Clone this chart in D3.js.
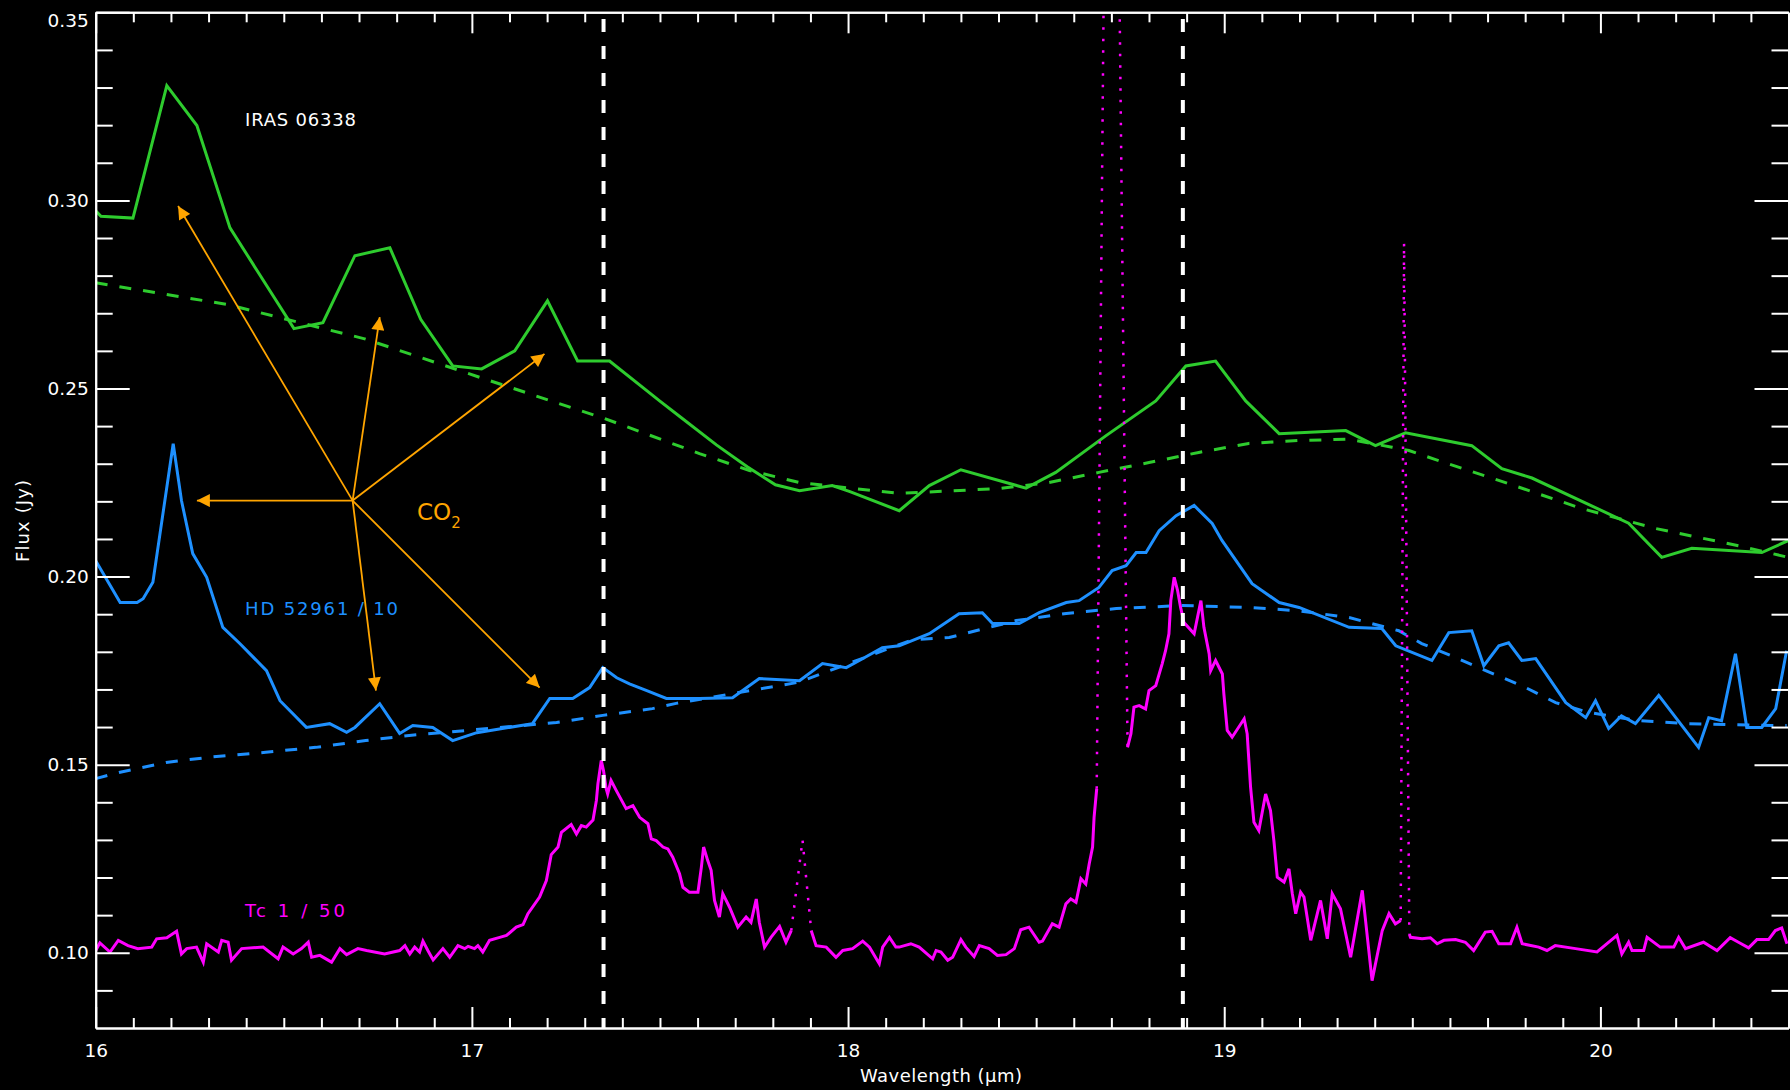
<!DOCTYPE html>
<html>
<head>
<meta charset="utf-8">
<script src="https://cdn.jsdelivr.net/npm/d3@7"></script>
<style>
  html, body { margin: 0; padding: 0; background: #000; }
  svg { display: block; }
  text { font-family: "DejaVu Sans", sans-serif; fill: #fff; }
</style>
</head>
<body>
<svg id="chart" width="1790" height="1090"></svg>
<script>
// ---- Spectra: [wavelength (µm), flux (Jy)] ----

// IRAS 06338 observed spectrum
const irasSpectrum = [
  [16.000,0.2972],[16.014,0.2958],[16.099,0.2953],[16.189,0.3305],[16.269,0.3199],
  [16.357,0.2927],[16.527,0.2659],[16.604,0.2675],[16.689,0.2853],[16.782,0.2874],
  [16.864,0.2684],[16.949,0.2560],[17.026,0.2552],[17.114,0.2600],[17.201,0.2733],
  [17.281,0.2573],[17.366,0.2573],[17.499,0.2467],[17.556,0.2423],[17.650,0.2350],
  [17.732,0.2292],[17.807,0.2244],[17.871,0.2228],[17.958,0.2242],[18.005,0.2226],
  [18.136,0.2175],[18.216,0.2242],[18.300,0.2284],[18.473,0.2235],[18.552,0.2277],
  [18.685,0.2374],[18.818,0.2467],[18.898,0.2560],[18.977,0.2573],[19.057,0.2467],
  [19.146,0.2380],[19.323,0.2388],[19.402,0.2348],[19.482,0.2382],[19.658,0.2348],
  [19.738,0.2287],[19.818,0.2262],[20.075,0.2142],[20.163,0.2051],[20.243,0.2075],
  [20.429,0.2064],[20.500,0.2096]
];

// IRAS 06338 continuum
const irasContinuum = [
  [16.000,0.2781],[16.351,0.2723],[16.715,0.2632],[17.050,0.2520],[17.353,0.2420],
  [17.605,0.2327],[17.738,0.2282],[17.871,0.2250],[18.136,0.2221],[18.402,0.2234],
  [18.534,0.2250],[18.667,0.2277],[18.800,0.2303],[18.932,0.2330],[19.065,0.2354],
  [19.198,0.2362],[19.331,0.2365],[19.446,0.2344],[19.491,0.2335],[19.562,0.2311],
  [19.756,0.2247],[19.950,0.2181],[20.146,0.2128],[20.367,0.2082],[20.500,0.2051]
];

// HD 52961 spectrum, scaled by 1/10
const hdSpectrum = [
  [16.000,0.2042],[16.065,0.1931],[16.110,0.1931],[16.126,0.1941],[16.152,0.1985],
  [16.206,0.2353],[16.228,0.2202],[16.258,0.2061],[16.295,0.1998],[16.338,0.1865],
  [16.383,0.1822],[16.454,0.1750],[16.490,0.1670],[16.560,0.1599],[16.622,0.1609],
  [16.667,0.1586],[16.689,0.1599],[16.755,0.1662],[16.808,0.1583],[16.843,0.1604],
  [16.896,0.1599],[16.949,0.1564],[17.013,0.1585],[17.161,0.1609],[17.207,0.1676],
  [17.268,0.1676],[17.313,0.1705],[17.348,0.1758],[17.385,0.1731],[17.419,0.1715],
  [17.465,0.1697],[17.517,0.1676],[17.605,0.1676],[17.693,0.1678],[17.764,0.1729],
  [17.871,0.1723],[17.932,0.1769],[17.995,0.1758],[18.030,0.1777],[18.091,0.1811],
  [18.136,0.1816],[18.216,0.1848],[18.295,0.1901],[18.357,0.1904],[18.384,0.1875],
  [18.455,0.1875],[18.508,0.1904],[18.580,0.1931],[18.614,0.1936],[18.667,0.1971],
  [18.702,0.2016],[18.739,0.2029],[18.766,0.2064],[18.792,0.2064],[18.827,0.2122],
  [18.872,0.2162],[18.920,0.2189],[18.968,0.2141],[18.994,0.2096],[19.074,0.1981],
  [19.146,0.1931],[19.199,0.1918],[19.332,0.1865],[19.419,0.1862],[19.456,0.1816],
  [19.552,0.1777],[19.597,0.1851],[19.658,0.1856],[19.690,0.1763],[19.730,0.1816],
  [19.756,0.1824],[19.791,0.1777],[19.828,0.1782],[19.908,0.1665],[19.961,0.1625],
  [19.987,0.1670],[20.022,0.1596],[20.056,0.1630],[20.093,0.1609],[20.155,0.1684],
  [20.261,0.1546],[20.288,0.1625],[20.322,0.1617],[20.359,0.1795],[20.389,0.1599],
  [20.429,0.1599],[20.466,0.1649],[20.495,0.1803]
];

// HD 52961 continuum, scaled by 1/10
const hdContinuum = [
  [16.000,0.1463],[16.065,0.1480],[16.187,0.1506],[16.304,0.1520],[16.452,0.1533],
  [16.585,0.1546],[16.718,0.1564],[16.827,0.1577],[17.225,0.1612],[17.348,0.1631],
  [17.480,0.1649],[17.543,0.1663],[17.868,0.1719],[18.171,0.1832],[18.269,0.1838],
  [18.447,0.1883],[18.580,0.1902],[18.713,0.1915],[18.888,0.1923],[19.066,0.1918],
  [19.199,0.1909],[19.332,0.1891],[19.464,0.1856],[19.525,0.1822],[19.615,0.1785],
  [19.676,0.1758],[19.791,0.1710],[19.881,0.1665],[19.968,0.1639],[20.101,0.1617],
  [20.234,0.1609],[20.455,0.1604],[20.495,0.1604]
];

// Tc 1 spectrum, scaled by 1/50 (split into valid pieces and flagged gaps)
const tcSegmentA = [
  [16.000,0.1006],[16.011,0.1026],[16.038,0.1002],[16.060,0.1033],[16.086,0.1019],
  [16.112,0.1011],[16.149,0.1015],[16.162,0.1037],[16.189,0.1040],[16.215,0.1057],
  [16.228,0.0997],[16.242,0.1011],[16.268,0.1015],[16.286,0.0975],[16.295,0.1024],
  [16.326,0.1002],[16.335,0.1033],[16.352,0.1028],[16.361,0.0980],[16.388,0.1011],
  [16.445,0.1015],[16.485,0.0984],[16.498,0.1015],[16.525,0.0997],[16.547,0.1011],
  [16.565,0.1028],[16.574,0.0988],[16.596,0.0993],[16.627,0.0975],[16.649,0.1011],
  [16.667,0.0995],[16.697,0.1011],[16.720,0.1006],[16.768,0.0997],[16.808,0.1006],
  [16.822,0.1019],[16.835,0.0997],[16.848,0.1015],[16.861,0.1002],[16.870,0.1031],
  [16.883,0.1006],[16.897,0.0981],[16.923,0.1011],[16.941,0.0988],[16.963,0.1019],
  [16.981,0.1011],[16.990,0.1017],[17.007,0.1011],[17.016,0.1019],[17.029,0.1002],
  [17.047,0.1033],[17.074,0.1041],[17.092,0.1046],[17.118,0.1068],[17.136,0.1075],
  [17.149,0.1104],[17.180,0.1148],[17.198,0.1192],[17.211,0.1261],[17.229,0.1281],
  [17.238,0.1320],[17.264,0.1341],[17.278,0.1316],[17.291,0.1338],[17.304,0.1334],
  [17.322,0.1353],[17.331,0.1405],[17.335,0.1449],[17.344,0.1511],[17.350,0.1484],
  [17.357,0.1436],[17.361,0.1422],[17.370,0.1458],[17.384,0.1431],[17.410,0.1383],
  [17.428,0.1391],[17.446,0.1360],[17.468,0.1343],[17.477,0.1303],[17.490,0.1298],
  [17.508,0.1281],[17.521,0.1276],[17.534,0.1254],[17.552,0.1210],[17.561,0.1174],
  [17.578,0.1161],[17.601,0.1161],[17.610,0.1227],[17.616,0.1281],[17.627,0.1245],
  [17.636,0.1219],[17.645,0.1139],[17.658,0.1095],[17.667,0.1157],[17.685,0.1121],
  [17.707,0.1068],[17.729,0.1095],[17.742,0.1081],[17.756,0.1143],[17.764,0.1081],
  [17.778,0.1015],[17.795,0.1041],[17.818,0.1070],[17.835,0.1028],[17.849,0.1059]
];
const tcGapA = [[17.849,0.1059],[17.879,0.1300],[17.902,0.1059]];
const tcSegmentB = [
  [17.902,0.1059],[17.915,0.1019],[17.942,0.1015],[17.968,0.0988],[17.986,0.1006],
  [18.012,0.1011],[18.039,0.1031],[18.057,0.1015],[18.083,0.0971],[18.092,0.1015],
  [18.110,0.1041],[18.127,0.1015],[18.136,0.1015],[18.167,0.1024],[18.189,0.1015],
  [18.225,0.0984],[18.234,0.1006],[18.247,0.1002],[18.265,0.0980],[18.278,0.0988],
  [18.300,0.1035],[18.313,0.1015],[18.335,0.0990],[18.349,0.1019],[18.375,0.1011],
  [18.397,0.0993],[18.420,0.0995],[18.442,0.1011],[18.459,0.1061],[18.481,0.1068],
  [18.508,0.1028],[18.517,0.1031],[18.543,0.1077],[18.561,0.1068],[18.579,0.1130],
  [18.592,0.1143],[18.606,0.1134],[18.619,0.1197],[18.632,0.1183],[18.641,0.1236],
  [18.650,0.1281],[18.654,0.1360],[18.661,0.1436]
];
const tcGapB = [[18.661,0.1436],[18.680,0.3600],[18.721,0.3600],[18.743,0.1546]];
const tcSegmentC = [
  [18.743,0.1546],[18.752,0.1582],[18.760,0.1653],[18.774,0.1657],[18.791,0.1648],
  [18.800,0.1697],[18.818,0.1710],[18.835,0.1768],[18.844,0.1803],[18.853,0.1848],
  [18.858,0.1936],[18.867,0.1998],[18.876,0.1963],[18.884,0.1918],[18.893,0.1878],
  [18.920,0.1848],[18.938,0.1936],[18.946,0.1865],[18.960,0.1794],[18.964,0.1750],
  [18.977,0.1777],[18.995,0.1741],[18.999,0.1688],[19.008,0.1591],[19.021,0.1573],
  [19.053,0.1622],[19.061,0.1582],[19.070,0.1440],[19.079,0.1347],[19.092,0.1325],
  [19.110,0.1422],[19.123,0.1378],[19.132,0.1298],[19.141,0.1201],[19.159,0.1188],
  [19.172,0.1223],[19.181,0.1157],[19.190,0.1104],[19.203,0.1161],[19.212,0.1148],
  [19.230,0.1033],[19.256,0.1139],[19.274,0.1037],[19.287,0.1157],[19.309,0.1117],
  [19.336,0.0988],[19.367,0.1166],[19.393,0.0926],[19.420,0.1059],[19.438,0.1104],
  [19.455,0.1077],[19.469,0.1086]
];
const tcGapC = [[19.469,0.1086],[19.478,0.2887],[19.492,0.1050]];
const tcSegmentD = [
  [19.492,0.1050],[19.495,0.1041],[19.526,0.1037],[19.548,0.1040],[19.566,0.1024],
  [19.584,0.1033],[19.615,0.1035],[19.641,0.1028],[19.663,0.1006],[19.694,0.1055],
  [19.712,0.1057],[19.730,0.1024],[19.761,0.1024],[19.778,0.1068],[19.792,0.1024],
  [19.836,0.1015],[19.858,0.1006],[19.880,0.1019],[19.934,0.1011],[19.991,0.1002],
  [20.044,0.1046],[20.057,0.0997],[20.075,0.1028],[20.084,0.1006],[20.115,0.1006],
  [20.124,0.1041],[20.159,0.1015],[20.195,0.1015],[20.208,0.1041],[20.226,0.1011],
  [20.274,0.1028],[20.310,0.1006],[20.345,0.1040],[20.367,0.1028],[20.394,0.1013],
  [20.416,0.1035],[20.447,0.1035],[20.465,0.1059],[20.482,0.1066],[20.496,0.1024]
];

// Reference wavelengths marked by vertical dashed lines
const markerWavelengths = [17.35, 18.89];

// CO2 band arrows: common origin and the points they indicate
const co2Origin = [16.683, 0.2202];
const co2Targets = [
  [16.219, 0.2985], [16.269, 0.2202], [16.755, 0.2690],
  [17.193, 0.2592], [16.745, 0.1697], [17.180, 0.1705]
];

// Axis ticks
const xMajorTicks = [16, 17, 18, 19, 20];
const xMinorTicks = d3.range(161, 205).filter(v => v % 10 !== 0).map(v => v / 10);
const yMajorTicks = [0.10, 0.15, 0.20, 0.25, 0.30, 0.35];
const yMinorTicks = d3.range(9, 35).filter(v => v % 5 !== 0).map(v => v / 100);

// ---- Layout ----
const svg = d3.select("#chart");
svg.append("rect").attr("width", 1790).attr("height", 1090).attr("fill", "#000");

const plotLeft = 95.7, plotRight = 1788.5, plotTop = 12.3, plotBottom = 1028;
const x = d3.scaleLinear().domain([16, 20.5]).range([plotLeft, plotRight]);
const y = d3.scaleLinear().domain([0.08, 0.35]).range([plotBottom, plotTop]);

const colors = {
  iras: "#2ecc2e",
  hd: "#1e90ff",
  tc: "#ff00ff",
  co2: "#ffa500",
  axis: "#ffffff"
};

svg.append("defs").append("clipPath").attr("id", "plotClip")
  .append("rect")
  .attr("x", plotLeft).attr("y", plotTop)
  .attr("width", plotRight - plotLeft).attr("height", plotBottom - plotTop);

const line = d3.line().x(d => x(d[0])).y(d => y(d[1]));
const plot = svg.append("g").attr("clip-path", "url(#plotClip)");

function drawLine(data, color, width, dash) {
  plot.append("path")
    .datum(data)
    .attr("d", line)
    .attr("fill", "none")
    .attr("stroke", color)
    .attr("stroke-width", width)
    .attr("stroke-linejoin", "miter")
    .attr("stroke-dasharray", dash || null);
}

// Continua (dashed)
drawLine(irasContinuum, colors.iras, 3, "12,12");
drawLine(hdContinuum, colors.hd, 3, "12,12");

// Spectra
drawLine(irasSpectrum, colors.iras, 3);
drawLine(hdSpectrum, colors.hd, 3);
[tcSegmentA, tcSegmentB, tcSegmentC, tcSegmentD].forEach(s => drawLine(s, colors.tc, 3));
[tcGapA, tcGapB, tcGapC].forEach(s => drawLine(s, colors.tc, 2.5, "2.5,9"));

// Vertical reference lines
plot.selectAll("line.marker")
  .data(markerWavelengths)
  .join("line")
  .attr("class", "marker")
  .attr("x1", d => x(d)).attr("x2", d => x(d))
  .attr("y1", y(0.3482)).attr("y2", y(0.08))
  .attr("stroke", "#fff")
  .attr("stroke-width", 4)
  .attr("stroke-dasharray", "13,14");

// CO2 arrows
const defs = svg.select("defs");
defs.append("marker")
  .attr("id", "arrowHead")
  .attr("viewBox", "0 0 10 10")
  .attr("refX", 10).attr("refY", 5)
  .attr("markerUnits", "userSpaceOnUse")
  .attr("markerWidth", 14).attr("markerHeight", 13)
  .attr("orient", "auto")
  .append("path")
  .attr("d", "M0,0 L10,5 L0,10 Z")
  .attr("fill", colors.co2);

svg.append("g").selectAll("line")
  .data(co2Targets)
  .join("line")
  .attr("x1", x(co2Origin[0])).attr("y1", y(co2Origin[1]))
  .attr("x2", d => x(d[0])).attr("y2", d => y(d[1]))
  .attr("stroke", colors.co2)
  .attr("stroke-width", 1.8)
  .attr("marker-end", "url(#arrowHead)");

// ---- Axes ----
function styleAxis(g) {
  g.selectAll("path.domain").attr("stroke", colors.axis).attr("stroke-width", 2);
  g.selectAll(".tick line").attr("stroke", colors.axis).attr("stroke-width", 2);
  g.selectAll(".tick text")
    .attr("fill", colors.axis)
    .style("font-family", '"DejaVu Sans", sans-serif')
    .style("font-size", "18.5px");
}

// bottom
svg.append("g").attr("transform", `translate(0,${plotBottom})`)
  .call(d3.axisBottom(x).tickValues(xMinorTicks).tickSize(-10).tickSizeOuter(0).tickFormat(""))
  .call(styleAxis);
svg.append("g").attr("transform", `translate(0,${plotBottom})`)
  .call(d3.axisBottom(x).tickValues(xMajorTicks).tickSize(-21).tickSizeOuter(0).tickPadding(16).tickFormat(d3.format("d")))
  .call(styleAxis);

// top
svg.append("g").attr("transform", `translate(0,${plotTop})`)
  .call(d3.axisTop(x).tickValues(xMinorTicks).tickSize(-10).tickSizeOuter(0).tickFormat(""))
  .call(styleAxis);
svg.append("g").attr("transform", `translate(0,${plotTop})`)
  .call(d3.axisTop(x).tickValues(xMajorTicks).tickSize(-21).tickSizeOuter(0).tickFormat(""))
  .call(styleAxis);

// left
svg.append("g").attr("transform", `translate(${plotLeft},0)`)
  .call(d3.axisLeft(y).tickValues(yMinorTicks).tickSize(-17).tickSizeOuter(0).tickFormat(""))
  .call(styleAxis);
const yAxisLeft = svg.append("g").attr("transform", `translate(${plotLeft},0)`)
  .call(d3.axisLeft(y).tickValues(yMajorTicks).tickSize(-34).tickSizeOuter(0).tickPadding(7).tickFormat(d3.format(".2f")))
  .call(styleAxis);
yAxisLeft.selectAll(".tick text").filter(d => d === 0.35).attr("dy", "0.75em");

// right
svg.append("g").attr("transform", `translate(${plotRight},0)`)
  .call(d3.axisRight(y).tickValues(yMinorTicks).tickSize(-17).tickSizeOuter(0).tickFormat(""))
  .call(styleAxis);
svg.append("g").attr("transform", `translate(${plotRight},0)`)
  .call(d3.axisRight(y).tickValues(yMajorTicks).tickSize(-34).tickSizeOuter(0).tickFormat(""))
  .call(styleAxis);

// Axis titles
svg.append("text")
  .attr("x", 860).attr("y", 1082)
  .style("font-size", "18px")
  .attr("textLength", 162).attr("lengthAdjust", "spacing")
  .text("Wavelength (µm)");

svg.append("text")
  .attr("transform", "translate(29,562) rotate(-90)")
  .style("font-size", "18px")
  .attr("textLength", 82).attr("lengthAdjust", "spacing")
  .text("Flux (Jy)");

// Series labels
svg.append("text")
  .attr("x", x(16.397)).attr("y", 126)
  .style("font-size", "18px")
  .attr("textLength", 111).attr("lengthAdjust", "spacing")
  .text("IRAS 06338");

svg.append("text")
  .attr("x", x(16.397)).attr("y", 615)
  .style("font-size", "18px")
  .style("fill", colors.hd)
  .attr("textLength", 153).attr("lengthAdjust", "spacing")
  .text("HD 52961 / 10");

svg.append("text")
  .attr("x", x(16.397)).attr("y", 917)
  .style("font-size", "18px")
  .style("fill", colors.tc)
  .attr("textLength", 100).attr("lengthAdjust", "spacing")
  .text("Tc 1 / 50");

const co2Label = svg.append("text")
  .attr("x", 417).attr("y", 520)
  .style("font-size", "23px")
  .style("fill", colors.co2);
co2Label.append("tspan").text("CO");
co2Label.append("tspan").attr("dy", 8).style("font-size", "15px").text("2");
</script>
</body>
</html>
